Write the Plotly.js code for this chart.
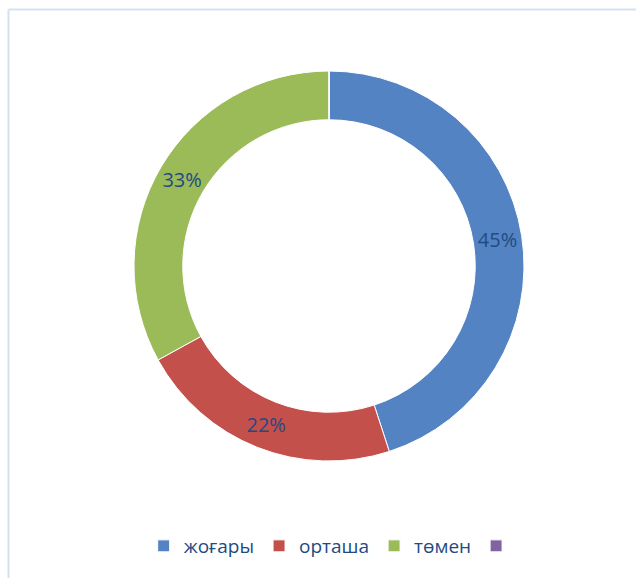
<!DOCTYPE html>
<html>
<head>
<meta charset="utf-8">
<script src="https://cdn.plot.ly/plotly-3.0.1.min.js"></script>
<style>html,body{margin:0;padding:0;background:#fff;}#chart{width:636px;height:578px;}</style>
</head>
<body>
<div id="chart"></div>
<script>
const labels = ['жоғары', 'орташа', 'төмен', ' '];
const values = [45, 22, 33, 0];
const colors = ['#5483c4', '#c4504c', '#9bbb59', '#8064a2'];

const W = 636, H = 578;
const cx = 329, cy = 266, R = 195;

const trace = {
  type: 'pie',
  labels: labels,
  values: values,
  sort: false,
  direction: 'clockwise',
  rotation: 0,
  hole: 0.75,
  textposition: 'inside',
  insidetextorientation: 'horizontal',
  texttemplate: values.map(v => v > 0 ? '%{percent:.0%}' : ''),
  textfont: {family: 'Open Sans, Noto Sans, sans-serif', size: 20, color: '#234a82'},
  marker: {colors: colors, line: {color: '#ffffff', width: 1}},
  domain: {x: [(cx - R) / W, (cx + R) / W], y: [1 - (cy + R) / H, 1 - (cy - R) / H]},
  showlegend: true,
  hoverinfo: 'label+percent'
};

const layout = {
  width: W, height: H,
  margin: {l: 0, r: 0, t: 0, b: 0},
  paper_bgcolor: '#ffffff',
  showlegend: true,
  uniformtext: {mode: 'show', minsize: 20},
  legend: {
    orientation: 'h', x: 0.527, xanchor: 'center', y: 1 - 546 / H, yanchor: 'middle',
    font: {family: 'Open Sans, Noto Sans, sans-serif', size: 19, color: '#234a82'},
    traceorder: 'normal', itemclick: false, itemdoubleclick: false
  },
  shapes: [
    {type: 'line', xref: 'paper', yref: 'paper', x0: 8.5 / W, x1: 8.5 / W, y0: 1 - 9.5 / H, y1: -0.05, line: {color: '#d3e1f2', width: 2}},
    {type: 'line', xref: 'paper', yref: 'paper', x0: 8.5 / W, x1: 1.05, y0: 1 - 9.5 / H, y1: 1 - 9.5 / H, line: {color: '#d3e1f2', width: 2}}
  ]
};

Plotly.newPlot('chart', [trace], layout, {displayModeBar: false, staticPlot: true});
</script>
</body>
</html>
